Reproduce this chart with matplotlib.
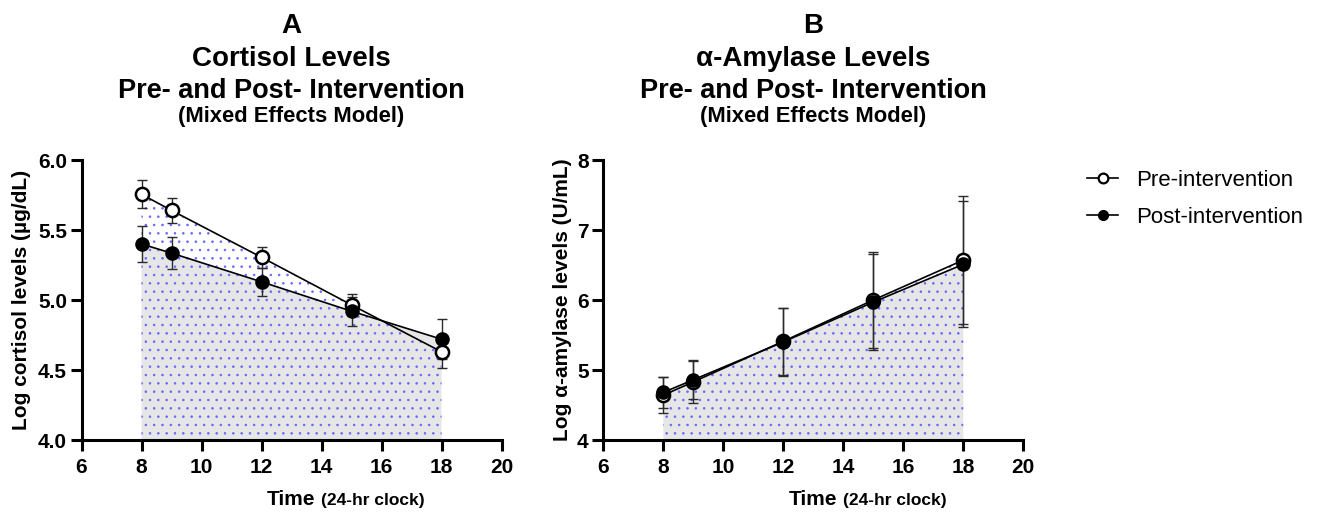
import matplotlib
matplotlib.use("Agg")
import matplotlib.pyplot as plt
from matplotlib.lines import Line2D

plt.rcParams['font.family'] = ['Liberation Sans', 'DejaVu Sans']
plt.rcParams['hatch.linewidth'] = 0.6

# ---- data ----
time = [8, 9, 12, 15, 18]
cort_pre = [5.755, 5.64, 5.305, 4.965, 4.63]
cort_pre_err = [0.10, 0.087, 0.077, 0.08, 0.115]
cort_post = [5.40, 5.335, 5.13, 4.92, 4.72]
cort_post_err = [0.127, 0.113, 0.098, 0.105, 0.143]
amy_pre = [4.64, 4.83, 5.41, 6.00, 6.57]
amy_pre_err = [0.26, 0.30, 0.48, 0.69, 0.91]
amy_post = [4.68, 4.86, 5.40, 5.97, 6.51]
amy_post_err = [0.22, 0.28, 0.49, 0.69, 0.90]

x_ticks = [6, 8, 10, 12, 14, 16, 18, 20]
cort_yticks = [4.0, 4.5, 5.0, 5.5, 6.0]
amy_yticks = [4, 5, 6, 7, 8]

W, H = 1317, 514
fig = plt.figure(figsize=(W / 100, H / 100), dpi=100)

def px(x):
    return x / W

def py(y):
    return 1 - y / H

axA = fig.add_axes([px(81.5), py(440), px(420), (440 - 160) / H])
axB = fig.add_axes([px(603.3), py(440), px(420), (440 - 160) / H])

GRAY = '#e6e6e6'
DOTS = '#6868ff'

def panel(ax, pre, pre_err, post, post_err, ylim, yticks, fmt):
    base = ylim[0]
    ax.fill_between(time, base, post, facecolor=GRAY, edgecolor='none', linewidth=0, zorder=1)
    ax.fill_between(time, base, pre, facecolor='none', edgecolor=DOTS, hatch='..',
                    linewidth=0, zorder=2)
    ax.errorbar(time, pre, yerr=pre_err, fmt='none', ecolor='#2a2a2a', elinewidth=1.0,
                capsize=3.6, capthick=1.0, zorder=3)
    ax.errorbar(time, post, yerr=post_err, fmt='none', ecolor='#2a2a2a', elinewidth=1.0,
                capsize=3.6, capthick=1.0, zorder=3)
    ax.plot(time, pre, color='black', lw=1.2, marker='o', ms=9.5, mfc='white',
            mec='black', mew=1.8, zorder=4)
    ax.plot(time, post, color='black', lw=1.2, marker='o', ms=9.0, mfc='black',
            mec='black', mew=1.5, zorder=5)
    ax.set_xlim(6, 20)
    ax.set_ylim(*ylim)
    ax.set_xticks(x_ticks)
    ax.set_yticks(yticks)
    ax.set_yticklabels([fmt.format(v) for v in yticks])
    for s in ['top', 'right']:
        ax.spines[s].set_visible(False)
    for s in ['left', 'bottom']:
        ax.spines[s].set_linewidth(2.2)
    ax.tick_params(axis='both', direction='out', length=8, width=2.2, labelsize=15)
    ax.tick_params(axis='x', pad=5)
    ax.tick_params(axis='y', pad=2.5)
    for lab in ax.get_xticklabels() + ax.get_yticklabels():
        lab.set_fontweight('bold')
    ax.patch.set_alpha(0)

panel(axA, cort_pre, cort_pre_err, cort_post, cort_post_err, (4.0, 6.0), cort_yticks, '{:.1f}')
panel(axB, amy_pre, amy_pre_err, amy_post, amy_post_err, (4, 8), amy_yticks, '{:.0f}')

# titles
def titles(cx, letter, line1):
    fig.text(cx, py(33), letter, ha='center', va='baseline', fontsize=20, fontweight='bold')
    fig.text(cx, py(66), line1, ha='center', va='baseline', fontsize=20, fontweight='bold')
    fig.text(cx, py(98), 'Pre- and Post- Intervention', ha='center', va='baseline',
             fontsize=19.5, fontweight='bold')
    fig.text(cx, py(122), '(Mixed Effects Model)', ha='center', va='baseline',
             fontsize=15.8, fontweight='bold')

titles(px(291.5), 'A', 'Cortisol Levels')
titles(px(813.3), 'B', 'α-Amylase Levels')

# y labels
fig.text(px(21.5), py(300), 'Log cortisol levels (µg/dL)', rotation=90, ha='center',
         va='center', fontsize=15, fontweight='bold')
fig.text(px(562.5), py(300), 'Log α-amylase levels (U/mL)', rotation=90, ha='center',
         va='center', fontsize=15, fontweight='bold')

# x labels
for x0 in (81.5, 603.3):
    fig.text(px(x0 + 234), py(505), 'Time', ha='right', va='baseline', fontsize=15,
             fontweight='bold')
    fig.text(px(x0 + 239.5), py(505), '(24-hr clock)', ha='left', va='baseline',
             fontsize=12.5, fontweight='bold')

# legend
handles = [
    Line2D([], [], color='black', lw=1.2, marker='o', ms=7, mfc='white', mec='black', mew=1.6),
    Line2D([], [], color='black', lw=1.2, marker='o', ms=7, mfc='black', mec='black'),
]
fig.legend(handles, ['Pre-intervention', 'Post-intervention'], loc='center left',
           bbox_to_anchor=(px(1087), py(199)), frameon=False, fontsize=16,
           handlelength=1.4, handletextpad=0.8, labelspacing=0.7, borderpad=0,
           borderaxespad=0)

fig.savefig('out.png', dpi=100)
